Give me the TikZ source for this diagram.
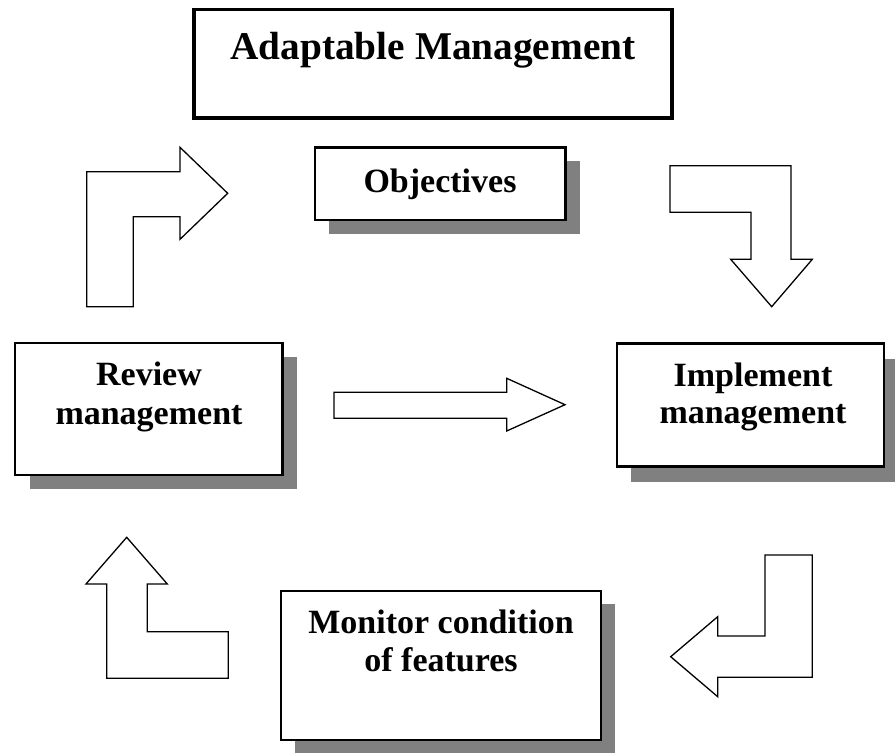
\documentclass[tikz,border=0pt]{standalone}
\usepackage{fontspec}
\setmainfont{Liberation Serif}
\begin{document}
\begin{tikzpicture}[x=1pt,y=-1pt,
  box/.style={draw=black,line width=2.2pt,fill=white},
  titlebox/.style={draw=black,line width=3.3pt,fill=white},
  shadowbox/.style={fill=black!50,draw=none},
  lbl/.style={anchor=base,inner sep=0pt,font=\bfseries\fontsize{34}{38}\selectfont},
  titlelbl/.style={anchor=base,inner sep=0pt,font=\bfseries\fontsize{39.3}{44}\selectfont},
  blockarrow/.style={draw=black,line width=1.3pt,fill=white,line join=miter}]
\useasboundingbox (0,0) rectangle (895,753);
\fill[white] (0,0) rectangle (895,753);

% title
\draw[titlebox] (194,9.5) rectangle (672,118);
\node[titlelbl] (title) at (433,59) {Adaptable Management};

% objectives
\fill[shadowbox] (315+14,147.5+13.5) rectangle (565.5+14,220+13.5);
\draw[box] (315,147.5) rectangle (565.5,220);
\node[lbl] (obj) at (440,192) {Objectives};

% review
\fill[shadowbox] (15+14.5,343+14) rectangle (282.5+14.5,475+14);
\draw[box] (15,343) rectangle (282.5,475);
\node[lbl] (rev1) at (149,385) {Review};
\node[lbl] (rev2) at (149,424) {management};

% implement
\fill[shadowbox] (617+14,343.5+15) rectangle (884+14,466.5+15);
\draw[box] (617,343.5) rectangle (884,466.5);
\node[lbl] (imp1) at (753,386.5) {Implement};
\node[lbl] (imp2) at (753,423) {management};

% monitor
\fill[shadowbox] (281+14,591+13) rectangle (601+14,740+13);
\draw[box] (281,591) rectangle (601,740);
\node[lbl] (mon1) at (441,633) {Monitor condition};
\node[lbl] (mon2) at (441,671) {of features};

% block arrows
\draw[blockarrow] (86.7,306.7) -- (86.7,171.7) -- (180,171.7) -- (180,147.3)
  -- (227.7,193.3) -- (180,239.3) -- (180,216.7) -- (133.3,216.7) -- (133.3,306.7) -- cycle;
\draw[blockarrow] (670,165.7) -- (791,165.7) -- (791,259.3) -- (812.3,259.3)
  -- (771.7,306.7) -- (730.7,259.3) -- (751,259.3) -- (751,212.3) -- (670,212.3) -- cycle;
\draw[blockarrow] (765,555) -- (812.3,555) -- (812.3,677.3) -- (717.7,677.3)
  -- (717.7,696.7) -- (670.7,656.7) -- (717.7,616.7) -- (717.7,636) -- (765,636) -- cycle;
\draw[blockarrow] (228.3,678.3) -- (106.7,678.3) -- (106.7,584) -- (86,584)
  -- (126.7,537.3) -- (167.3,584) -- (147.3,584) -- (147.3,631.7) -- (228.3,631.7) -- cycle;
\draw[blockarrow] (334,392.3) -- (506.7,392.3) -- (506.7,378.3) -- (565,404.7)
  -- (506.7,431) -- (506.7,418.3) -- (334,418.3) -- cycle;
\end{tikzpicture}
\end{document}
